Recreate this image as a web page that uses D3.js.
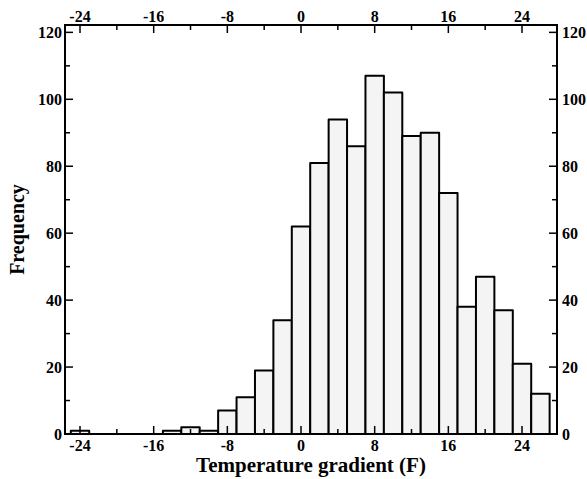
<!DOCTYPE html>
<html>
<head>
<meta charset="utf-8">
<script src="https://cdn.jsdelivr.net/npm/d3@7"></script>
<style>
  body { margin: 0; background: #fff; }
  text { font-family: "Liberation Serif", "DejaVu Serif", serif; font-weight: 700; }
</style>
</head>
<body>
<div id="chart"></div>
<script>
// bin centres (width 2) and counts
const binCenters = [-24, -14, -12, -10, -8, -6, -4, -2, 0, 2, 4, 6, 8, 10, 12, 14, 16, 18, 20, 22, 24, 26];
const counts     = [1, 1, 2, 1, 7, 11, 19, 34, 62, 81, 94, 86, 107, 102, 89, 90, 72, 38, 47, 37, 21, 12];
const binWidth = 2;
const xTicks = [-24, -16, -8, 0, 8, 16, 24];
const xMinor = [-20, -12, -4, 4, 12, 20];
const yTicks = [0, 20, 40, 60, 80, 100, 120];
const yMinor = [10, 30, 50, 70, 90, 110];

const width = 587, height = 479;
const margin = {top: 25, right: 30, bottom: 45, left: 65};

const svg = d3.select('#chart').append('svg')
    .attr('width', width)
    .attr('height', height);

const x = d3.scaleLinear().domain([-25.63, 27.8]).range([margin.left, width - margin.right]);
const y = d3.scaleLinear().domain([0, 122.2]).range([height - margin.bottom, margin.top]);

const x0 = margin.left, x1 = width - margin.right;
const y0 = height - margin.bottom, y1 = margin.top;

// bars
svg.selectAll('rect.bar')
    .data(binCenters)
    .enter()
    .append('rect')
    .attr('class', 'bar')
    .attr('x', d => x(d - binWidth / 2))
    .attr('width', d => x(d + binWidth / 2) - x(d - binWidth / 2))
    .attr('y', (d, i) => y(counts[i]))
    .attr('height', (d, i) => y(0) - y(counts[i]))
    .attr('fill', '#f4f4f4')
    .attr('stroke', '#000')
    .attr('stroke-width', 2)
    .attr('stroke-linejoin', 'round');

// ticks (inward on all four sides)
const tk = svg.append('g').attr('stroke', '#000').attr('stroke-width', 1.5);
function xt(vals, len) {
    vals.forEach(v => {
        tk.append('line').attr('x1', x(v)).attr('x2', x(v)).attr('y1', y0).attr('y2', y0 - len);
        tk.append('line').attr('x1', x(v)).attr('x2', x(v)).attr('y1', y1).attr('y2', y1 + len);
    });
}
function yt(vals, len) {
    vals.forEach(v => {
        tk.append('line').attr('y1', y(v)).attr('y2', y(v)).attr('x1', x0).attr('x2', x0 + len);
        tk.append('line').attr('y1', y(v)).attr('y2', y(v)).attr('x1', x1).attr('x2', x1 - len);
    });
}
xt(xTicks, 8); xt(xMinor, 5);
yt(yTicks, 8); yt(yMinor, 5);

// frame
svg.append('rect')
    .attr('x', x0).attr('y', y1)
    .attr('width', x1 - x0).attr('height', y0 - y1)
    .attr('fill', 'none').attr('stroke', '#000').attr('stroke-width', 2);

// tick labels
const fs = 16;
xTicks.forEach(v => {
    svg.append('text').attr('x', x(v)).attr('y', y0 + 17).attr('text-anchor', 'middle')
        .style('font-size', fs + 'px').text(v);
    svg.append('text').attr('x', x(v)).attr('y', y1 - 3).attr('text-anchor', 'middle')
        .style('font-size', fs + 'px').text(v);
});
yTicks.forEach(v => {
    svg.append('text').attr('x', x0 - 3).attr('y', y(v) + 5.5).attr('text-anchor', 'end')
        .style('font-size', fs + 'px').text(v);
    svg.append('text').attr('x', x1 + 5).attr('y', y(v) + 5.5).attr('text-anchor', 'start')
        .style('font-size', fs + 'px').text(v);
});

// axis titles
svg.append('text')
    .attr('x', (x0 + x1) / 2).attr('y', 472)
    .attr('text-anchor', 'middle').style('font-size', '21px')
    .text('Temperature gradient (F)');
svg.append('text')
    .attr('transform', 'translate(24,' + ((y0 + y1) / 2) + ') rotate(-90)')
    .attr('text-anchor', 'middle').style('font-size', '20px')
    .text('Frequency');
</script>
</body>
</html>
